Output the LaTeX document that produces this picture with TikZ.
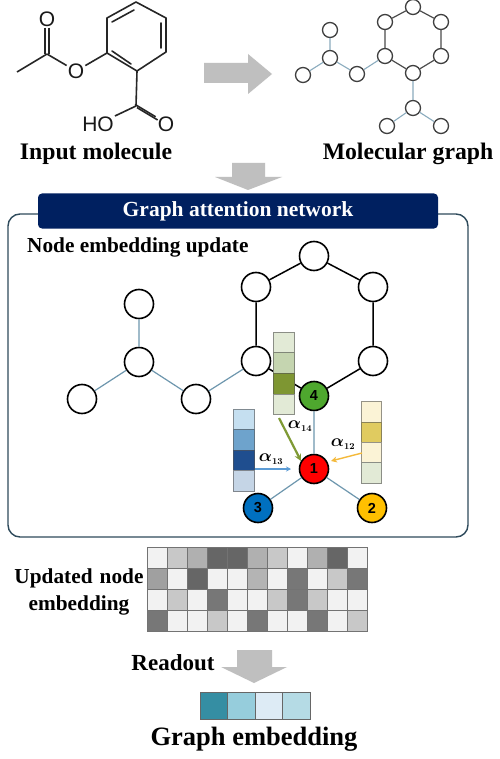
\documentclass[tikz,border=0pt]{standalone}
\usepackage{amsmath}
\usepackage{fontspec}
\setmainfont{Liberation Serif}
\newfontfamily\atomfont{Liberation Sans}
\usetikzlibrary{arrows.meta}
\definecolor{navy}{HTML}{002060}
\definecolor{frameC}{HTML}{2F4B5C}
\definecolor{edgeB}{HTML}{6E97AE}
\definecolor{arrowG}{HTML}{BFBFBF}
\definecolor{greenN}{HTML}{4EA72E}
\definecolor{blueN}{HTML}{0070C0}
\definecolor{yellowN}{HTML}{FFC000}
\definecolor{attG}{HTML}{7F9A35}
\definecolor{attB}{HTML}{5B9BD5}
\definecolor{attY}{HTML}{F4B93A}
\newcommand{\attlabel}[1]{$\boldsymbol{\alpha}_{\scriptscriptstyle\boldsymbol{#1}}$}
\tikzset{
  bond/.style={line width=1.6pt,draw=black!85},
  atom/.style={inner sep=1pt,font=\atomfont\fontsize{21}{21}\selectfont,text=black!90},
  vtx/.style={coordinate},
  smallN/.style={circle,draw=black!75,line width=1.3pt,fill=white,minimum size=15pt,inner sep=0pt},
  bigN/.style={circle,draw=black,line width=1.6pt,fill=white,minimum size=29pt,inner sep=0pt},
  numN/.style={circle,draw=black,line width=1.6pt,minimum size=29pt,inner sep=0pt,font=\atomfont\bfseries\fontsize{14.5}{15}\selectfont},
  sEdge/.style={line width=1.2pt,draw=black!70},
  sEdgeB/.style={line width=1.1pt,draw=edgeB!80},
  bEdge/.style={line width=1.5pt,draw=black},
  bEdgeB/.style={line width=1.2pt,draw=edgeB},
  bigArrow/.style={fill=arrowG,draw=none},
  title/.style={font=\bfseries\fontsize{23.7}{26}\selectfont,inner sep=0pt,align=center},
  sub/.style={font=\bfseries\fontsize{21.3}{27}\selectfont,inner sep=0pt,align=center},
  cell/.style={draw=#1!65!black!60!gray,line width=.8pt,fill=#1,inner sep=0pt,minimum width=21pt,minimum height=20.5pt},
  gcell/.style={draw=black!55,line width=.7pt,fill=#1,inner sep=0pt,minimum width=20pt,minimum height=21pt},
  tcell/.style={draw=black!60,line width=.8pt,fill=#1,inner sep=0pt,minimum width=27.5pt,minimum height=27pt},
  lab/.style={inner sep=0pt,font=\fontsize{19}{19}\selectfont},
}
\begin{document}
\begin{tikzpicture}[x=1pt,y=-1pt]
\path[use as bounding box,fill=white] (0,0) rectangle (499,759);
% --- input molecule
\foreach \n/\x/\y in {r1/136/2,r2/166/18,r3/166/52,r4/137/71,r5/107/53,r6/107/18,ca/47/54,me/17/72,cc/136/106,
  i1a/134/10,i1b/112/22,i2a/161/23,i2b/161/48,i3a/131/64,i3b/112/51}
  \node[vtx] (\n) at (\x,\y) {};
\node[atom] (oe) at (76,71) {O};
\node[atom] (ok) at (47,19) {O};
\node[atom] (ho) at (98,124) {HO};
\node[atom] (od) at (166,124) {O};
\draw[bond,line cap=round,line join=round] (r1)--(r2)--(r3)--(r4)--(r5)--(r6)--(r1);
\draw[bond,line cap=round] (i1a)--(i1b) (i2a)--(i2b) (i3a)--(i3b);
\draw[bond] (r5)--(oe) (oe)--(ca) (ca)--(me) (r4)--(cc) (cc)--(ho);
\draw[bond] ([xshift=-2pt]ok.south)--([xshift=-2pt]ca.north);
\draw[bond] ([xshift=2pt]ok.south)--([xshift=2pt]ca.north);
\draw[bond,transform canvas={shift={(1pt,-1.6pt)}}] (cc)--(od);
\draw[bond,transform canvas={shift={(-1pt,1.6pt)}}] (cc)--(od);
\node[title] (tinput) at (96,154) {Input molecule};
% --- arrows
\path[bigArrow] (204,63)--(248,63)--(248,54)--(272,74)--(248,94)--(248,83)--(204,83)--cycle;
\path[bigArrow] (232,163)--(265,163)--(265,177)--(282,177)--(248,190)--(215,177)--(232,177)--cycle;
\path[bigArrow] (237,650)--(272,650)--(272,667)--(287,667)--(254,683)--(221,667)--(237,667)--cycle;
% --- molecular graph
\foreach \n/\x/\y in {a/413/7,b/441/22,c/441/56,d/413/73,e/385/56,f/385/22,g/357/74,h/330/58,i/330/30,j/303/75,k/413/108,l/387/126,m/441/126}
  \node[smallN] (m\n) at (\x,\y) {};
\draw[sEdge] (ma)--(mb) (mb)--(mc) (mc)--(md) (md)--(me) (me)--(mf) (mf)--(ma);
\draw[sEdgeB] (me)--(mg) (mg)--(mh) (mh)--(mi) (mh)--(mj) (md)--(mk) (mk)--(ml) (mk)--(mm);
\node[title] (tgraph) at (408,154) {Molecular graph};
% --- network frame
\draw[frameC,line width=1.4pt,rounded corners=12pt,fill=white] (8,214) rectangle (468,537);
\node[draw=none,fill=navy,rounded corners=4pt,minimum width=400pt,minimum height=35pt,inner sep=0pt,
  text=white,font=\bfseries\fontsize{21.5}{22}\selectfont] (banner) at (238,211) {Graph attention network};
\node[sub,anchor=west] (tupd) at (27,247) {Node embedding update};
% --- big graph
\foreach \n/\x/\y in {a/314/256,b/373/287,c/373/361,e/256/361,f/256/287,g/196/399,h/139/362,i/139/304,j/82/399}
  \node[bigN] (b\n) at (\x,\y) {};
\node[numN,fill=greenN] (n4) at (314,396) {4};
\node[numN,fill=red] (n1) at (314,469) {1};
\node[numN,fill=blueN] (n3) at (258,508) {3};
\node[numN,fill=yellowN] (n2) at (372,508) {2};
\draw[bEdge] (ba)--(bb) (bb)--(bc) (bc)--(n4) (n4)--(be) (be)--(bf) (bf)--(ba);
\draw[bEdgeB] (be)--(bg) (bg)--(bh) (bh)--(bi) (bh)--(bj) (n4)--(n1) (n1)--(n3) (n1)--(n2);
% --- attention bars
\foreach \n/\c/\y in {1/E2EAD6/342.5,2/C5D5B0/363,3/7E9632/384,4/E2EAD6/404.5}{
  \definecolor{tmpc}{HTML}{\c}
  \node[cell=tmpc] (gb\n) at (283.5,\y) {};
}
\foreach \n/\c/\y in {1/C5DFF0/419.5,2/6EA3CC/440,3/1F4E8F/460.5,4/C5D5E6/481}{
  \definecolor{tmpc}{HTML}{\c}
  \node[cell=tmpc] (bb\n) at (243.5,\y) {};
}
\foreach \n/\c/\y in {1/FBF3D6/412,2/E0CB60/432.5,3/FBF3D6/453,4/E2EAD6/473}{
  \definecolor{tmpc}{HTML}{\c}
  \node[cell=tmpc,minimum width=19.5pt] (yb\n) at (371.5,\y) {};
}
\coordinate (gs) at (279,418);
\coordinate (ge) at (301,461);
\coordinate (bs) at (255,469);
\coordinate (be2) at (291,469);
\coordinate (ys) at (362,453);
\coordinate (ye) at (331,461);
\draw[-{Stealth[length=7pt,width=7pt]},line width=2.2pt,draw=attG] (gs)--(ge);
\draw[-{Stealth[length=5pt,width=5pt]},line width=1.1pt,draw=attB] (bs)--(be2);
\draw[-{Stealth[length=6pt,width=6pt]},line width=1.4pt,draw=attY] (ys)--(ye);
\node[lab] (a14) at (300,426) {\attlabel{14}};
\node[lab] (a13) at (271,459) {\attlabel{13}};
\node[lab] (a12) at (343,444) {\attlabel{12}};
% --- updated node embedding matrix
\foreach \row [count=\r from 0] in {
  {F2,C8,B0,66,66,B0,C8,F2,B0,66,F2},
  {A0,F2,66,F2,F2,B4,F2,77,F2,C8,77},
  {F2,C8,F2,77,F2,F2,C8,77,C8,F2,F2},
  {77,F2,F2,C8,F2,77,F2,F2,77,F2,C8}}{
  \foreach \g [count=\c from 0] in \row {
    \definecolor{tmpc}{HTML}{\g\g\g}
    \node[gcell=tmpc] (g\r-\c) at ({157+20*\c},{557.5+21*\r}) {};
  }
}
\node[sub,text width=140pt] (tupn) at (79,592) {Updated node\\embedding};
\node[sub,font=\bfseries\fontsize{23}{25}\selectfont] (tread) at (173,663) {Readout};
% --- graph embedding
\foreach \n/\c/\x in {1/358EA3/214,2/96CDDC/241.5,3/DDEBF5/269,4/B5DBE5/296.5}{
  \definecolor{tmpc}{HTML}{\c}
  \node[tcell=tmpc] (t\n) at (\x,705.5) {};
}
\node[title,font=\bfseries\fontsize{26.5}{28}\selectfont] (tge) at (254,739) {Graph embedding};
\end{tikzpicture}
\end{document}
